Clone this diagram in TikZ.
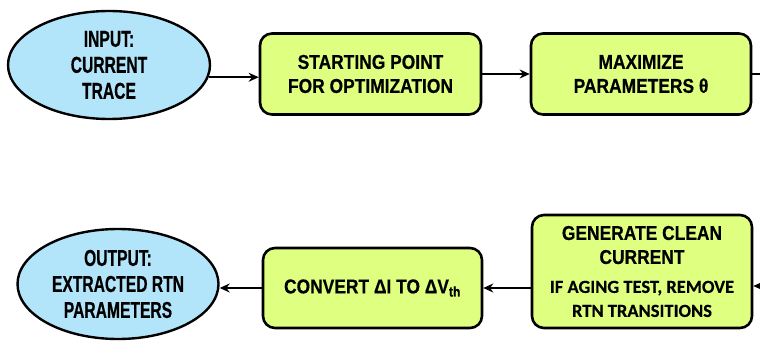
\documentclass[tikz,border=0pt]{standalone}
\usepackage{fontspec}
\setmainfont{Liberation Sans}
\newfontfamily\boxfont[FakeStretch=0.87,FakeBold=0.5]{Liberation Sans Bold}
\newfontfamily\ovalfont[FakeStretch=0.68,FakeBold=0.5]{Liberation Sans Bold}
\newfontfamily\notefont[FakeBold=0.4]{Carlito Bold}
\newcommand\notesize{\notefont\fontsize{18.5}{19}\selectfont}
\usetikzlibrary{shapes.geometric,arrows.meta}
\definecolor{ovalblue}{RGB}{179,229,250}
\definecolor{boxgreen}{RGB}{223,255,128}
\tikzset{
  oval/.style={ellipse, draw=black, line width=2.4pt, fill=ovalblue,
    inner sep=0pt, align=center,
    font=\ovalfont\fontsize{23}{26}\selectfont},
  stepbox/.style={rectangle, rounded corners=12pt, draw=black, line width=2.6pt,
    fill=boxgreen, inner sep=0pt, align=center,
    font=\boxfont\fontsize{20}{24}\selectfont},
  flow/.style={line width=2.4pt, -{Stealth[length=10pt,width=9pt]}},
  plain/.style={line width=2.4pt},
}
\begin{document}
\begin{tikzpicture}[x=1pt,y=-1pt]
\useasboundingbox (0,0) rectangle (760,342);

% top row
\node[oval, minimum width=202pt, minimum height=108pt] (in) at (109,65) {INPUT:\\CURRENT\\TRACE};
\node[stepbox, minimum width=221pt, minimum height=81pt] (start) at (370.5,74) {STARTING POINT\\FOR OPTIMIZATION};
\node[stepbox, minimum width=220pt, minimum height=81pt] (maxim) at (641,74) {MAXIMIZE\\PARAMETERS θ};

% bottom row
\node[oval, minimum width=201pt, minimum height=110pt] (out) at (118,284) {OUTPUT:\\EXTRACTED RTN\\PARAMETERS};
\node[stepbox, minimum width=219pt, minimum height=80pt] (conv) at (372.5,288) {CONVERT ΔI TO ΔV\textsubscript{th}};
\node[stepbox, minimum width=220pt, minimum height=113pt] (gen) at (642,271.5) {%
  GENERATE CLEAN\\CURRENT\\[5pt]
  \notesize IF AGING TEST, REMOVE\\\notesize RTN TRANSITIONS};

% links running past the right edge
\coordinate (exitR) at (760,74);
\coordinate (enterR) at (760,286);

% connectors
\draw[flow] (in.-7) -- (in.-7 -| start.west);
\draw[flow] (start.east) -- (maxim.west);
\draw[plain] (maxim.east) -- (exitR);
\draw[flow] (enterR) -- (enterR -| gen.east);
\draw[flow] (gen.west |- conv.east) -- (conv.east);
\draw[flow] (conv.west) -- (conv.west -| out.east);
\end{tikzpicture}
\end{document}
